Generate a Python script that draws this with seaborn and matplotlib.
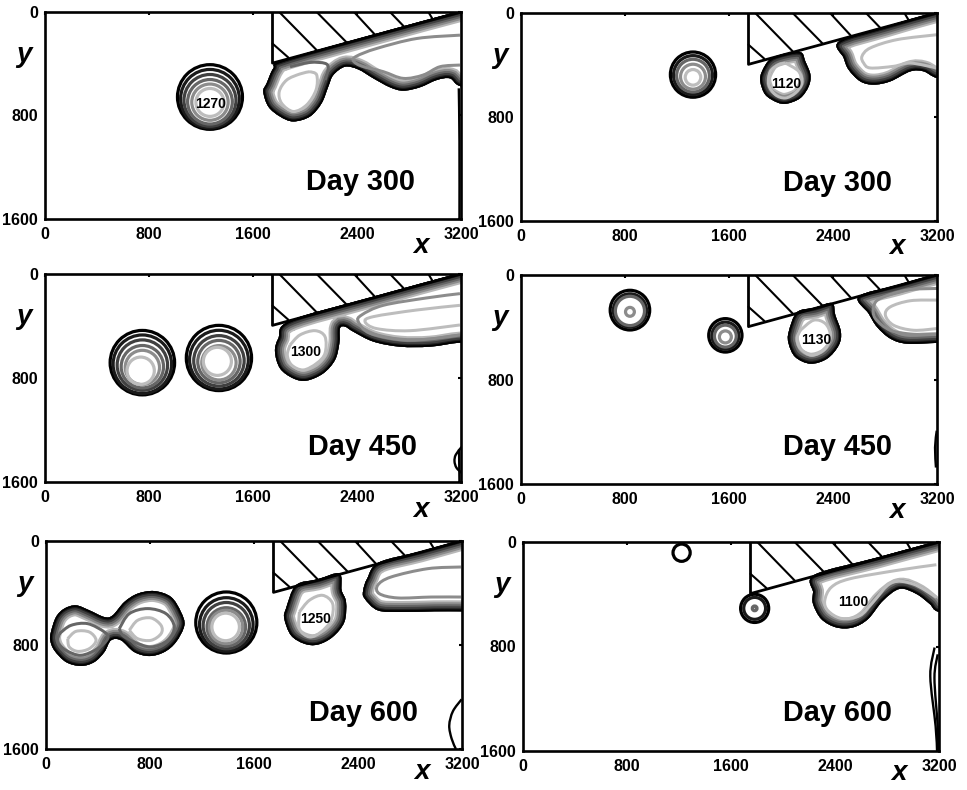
import matplotlib
matplotlib.use("Agg")
import matplotlib.pyplot as plt
import numpy as np
import seaborn as sns
from matplotlib.patches import Circle, PathPatch
from matplotlib.path import Path

# Values, all in model units (x, y), y pointing down
X_TICKS = [0, 800, 1600, 2400, 3200]
Y_TICKS = [0, 800, 1600]
DAYS = ["Day 300", "Day 300", "Day 450", "Day 450", "Day 600", "Day 600"]
DAY_POS = [(2423, 1315), (2431, 1308), (2444, 1328), (2431, 1320), (2444, 1323), (2418, 1308)]
CORE_LABELS = ["1270", "1120", "1300", "1130", "1250", "1100"]
CORE_POS = [(1277, 710), (2041, 544), (2005, 603), (2272, 495), (2077, 597), (2538, 456)]
X_LABEL_Y = [1808, 1800, 1815, 1808, 1777, 1770]

# panel boxes in pixels: left, right, top, bottom
BOXES = [(45, 461, 12, 219), (521, 937, 13, 221), (45, 461, 274, 482),
         (521, 937, 275, 484), (46, 462, 541, 749), (523, 939, 542, 751)]

# shelf outline and hatching, the same in all panels
COAST_X = [1750, 1750, 3200]
COAST_Y = [0, 395, 0]
HATCH_X0 = [1750, 1802, 2090, 2377, 2654, 2949]
HATCH_Y0 = [244, 0, 0, 0, 0, 0]
HATCH_X1 = [1872, 2090, 2320, 2538, 2764, 2982]
HATCH_Y1 = [352, 295, 235, 175, 115, 55]

# eddies: rings of (x, y, radius, level), outermost first
eddy_a1 = [(1269, 657, 250, 0), (1269, 670, 226, 1), (1269, 683, 200, 2),
           (1269, 694, 172, 3), (1269, 697, 140, 4), (1269, 699, 108, 5)]
eddy_b1 = [(1323, 474, 174, 0), (1323, 478, 150, 1), (1323, 482, 126, 3), (1323, 490, 96, 4),
           (1323, 495, 60, 5)]
eddy_c1 = [(749, 682, 248, 0), (749, 694, 225, 1), (749, 701, 194, 2),
           (749, 713, 163, 3), (749, 719, 132, 4), (736, 744, 105, 5)]
eddy_c2 = [(1338, 646, 251, 0), (1338, 659, 226, 1), (1338, 668, 194, 2),
           (1338, 674, 163, 3), (1338, 683, 132, 4), (1326, 672, 108, 5)]
eddy_d1 = [(838, 269, 152, 0), (838, 272, 128, 1), (838, 275, 112, 3), (838, 282, 34, 4)]
eddy_d2 = [(1572, 462, 128, 0), (1572, 465, 104, 1), (1572, 468, 84, 3), (1572, 474, 46, 4)]
eddy_e1 = [(1387, 627, 235, 0), (1387, 642, 206, 1), (1387, 651, 178, 2),
           (1387, 661, 148, 3), (1385, 661, 128, 4), (1382, 661, 106, 5)]
eddy_f1 = [(1220, 82, 66, 0)]
eddy_f2 = [(1782, 508, 108, 0), (1782, 508, 84, 1), (1782, 508, 18, 3), (1782, 508, 8, 3)]

# closed regions of the warm layer: contour bands run inward from these outlines
lobe_a = [(1833, 372), (1756, 436), (1705, 551), (1679, 615), (1718, 731), (1808, 808), (1910, 846),
          (2038, 808), (2128, 705), (2179, 577), (2218, 487), (2308, 423), (2410, 444), (2526, 513),
          (2654, 582), (2756, 608), (2884, 582), (3013, 526), (3115, 513), (3192, 572), (3400, 590),
          (3400, -60), (3200, -10), (2500, 181)]
lobe_b = [(1918, 354), (1854, 449), (1841, 526), (1879, 628), (1969, 687), (2046, 697), (2149, 654),
          (2213, 564), (2226, 474), (2187, 372), (2154, 303), (2040, 310)]
main_b = [(2444, 220), (2482, 346), (2520, 436), (2610, 526), (2713, 551), (2841, 526), (2995, 449),
          (3097, 449), (3200, 500), (3400, 520), (3400, -60), (3200, -10), (2800, 105)]
lobe_c = [(1885, 359), (1795, 495), (1769, 597), (1808, 726), (1910, 803), (2013, 820), (2141, 764),
          (2231, 661), (2264, 533), (2269, 418), (2308, 405), (2372, 444), (2526, 520), (2731, 559),
          (2961, 559), (3192, 528), (3400, 528), (3400, -60), (3200, -10), (2500, 181)]
lobe_d = [(2123, 285), (2059, 436), (2059, 526), (2110, 628), (2226, 679), (2354, 641), (2444, 538),
          (2461, 436), (2418, 308), (2392, 215), (2260, 250)]
main_d = [(2597, 165), (2674, 295), (2738, 397), (2841, 487), (2969, 526), (3200, 520), (3400, 520),
          (3400, -60), (3200, -10), (2900, 75)]
dumbbell_e = [(38, 700), (77, 585), (141, 520), (231, 495), (333, 533), (449, 585), (513, 572), (603, 469),
              (705, 405), (833, 385), (962, 431), (1038, 546), (1064, 649), (1000, 777), (910, 854),
              (795, 885), (679, 854), (577, 764), (500, 764), (449, 854), (372, 931), (269, 961),
              (154, 931), (64, 841), (33, 764)]
lobe_e = [(1923, 340), (1846, 520), (1833, 597), (1885, 726), (1987, 790), (2090, 797), (2205, 738),
          (2295, 623), (2308, 469), (2274, 379), (2256, 250), (2090, 295)]
main_e = [(2560, 165), (2470, 290), (2440, 380), (2449, 440), (2551, 533), (2731, 546), (2987, 541),
          (3192, 541), (3400, 541), (3400, -60), (3200, -10), (2880, 80)]
main_f = [(2244, 250), (2231, 385), (2231, 474), (2295, 590), (2410, 654), (2538, 654), (2654, 590),
          (2769, 449), (2897, 359), (3025, 397), (3128, 474), (3192, 533), (3400, 560), (3400, -60),
          (3200, -10), (2720, 120)]

# inner contours, drawn as lines: (points, level)
in_a1 = [(2038, 461), (2090, 487), (2085, 602), (2013, 718), (1910, 769), (1820, 705), (1802, 615),
         (1859, 526), (1961, 479), (2038, 461)]
in_a2 = [(1885, 423), (2038, 390), (2154, 397), (2179, 436), (2154, 526)]
in_a3 = [(3192, 179), (2859, 205), (2551, 282), (2397, 341), (2372, 377), (2436, 418), (2602, 461),
         (2756, 513), (2910, 487), (3038, 423), (3192, 410)]
in_b1 = [(2035, 385), (2136, 449), (2162, 538), (2110, 615), (2033, 654), (1956, 628), (1905, 551),
         (1918, 449), (1982, 397), (2035, 385)]
in_b2 = [(3200, 167), (2892, 205), (2687, 269), (2623, 333), (2636, 385), (2687, 423), (2867, 410),
         (2995, 385), (3200, 423)]
in_c1 = [(1885, 546), (1961, 469), (2077, 436), (2154, 482), (2154, 610), (2090, 687), (1987, 738),
         (1897, 700), (1864, 623), (1885, 546)]
in_c2 = [(3192, 151), (2936, 184), (2602, 241), (2436, 315), (2410, 367), (2500, 456), (2756, 508),
         (2987, 497), (3192, 469)]
in_c3 = [(3192, 241), (2859, 277), (2526, 328), (2462, 367), (2551, 420), (2808, 436), (3192, 392)]
in_d1 = [(2149, 423), (2251, 346), (2341, 372), (2379, 461), (2341, 564), (2238, 615), (2149, 564),
         (2123, 487), (2149, 423)]
in_d2 = [(3200, 103), (2969, 115), (2764, 179), (2713, 244), (2726, 333), (2841, 423), (3020, 454),
         (3200, 454)]
in_d3 = [(3200, 192), (2995, 197), (2841, 244), (2803, 308), (2867, 385), (3020, 423), (3200, 410)]
in_e1 = [(103, 713), (192, 649), (321, 636), (449, 700), (474, 751), (397, 828), (269, 879), (154, 841),
         (90, 777), (103, 713)]
in_e2 = [(167, 751), (231, 695), (333, 700), (385, 764), (333, 828), (244, 849), (179, 815), (167, 751)]
in_e3 = [(564, 674), (641, 559), (782, 520), (923, 559), (987, 661), (936, 764), (808, 815), (679, 777),
         (590, 726), (564, 674)]
in_e4 = [(641, 687), (705, 610), (808, 592), (885, 649), (885, 713), (808, 764), (705, 751), (641, 687)]
in_e5 = [(1949, 546), (2026, 456), (2128, 418), (2205, 482), (2192, 610), (2115, 700), (2026, 738),
         (1949, 674), (1949, 546)]
in_e6 = [(3192, 200), (2936, 213), (2654, 277), (2551, 341), (2564, 405), (2705, 438), (2962, 431),
         (3192, 431)]
in_f1 = [(3180, 174), (2872, 218), (2513, 282), (2372, 346), (2321, 449), (2346, 526), (2449, 585),
         (2590, 564), (2692, 461), (2833, 313), (3000, 321), (3180, 423)]

# contours hugging the eastern wall
wall_a = [(3183, 590), (3188, 1000), (3188, 1600)]
wall_c1 = [(3205, 1330), (3160, 1390), (3150, 1440), (3165, 1490), (3205, 1530)]
wall_c2 = [(3185, 1350), (3188, 1600)]
wall_d = [(3198, 1192), (3185, 1320), (3192, 1474)]
wall_e = [(3197, 1218), (3130, 1310), (3102, 1418), (3120, 1520), (3153, 1600)]
wall_f1 = [(3166, 808), (3133, 1026), (3174, 1410), (3185, 1600)]
wall_f2 = [(3190, 860), (3165, 1040), (3190, 1410), (3195, 1600)]

EDDIES = [[eddy_a1], [eddy_b1], [eddy_c1, eddy_c2], [eddy_d1, eddy_d2], [eddy_e1], [eddy_f1, eddy_f2]]
REGIONS = [[lobe_a], [lobe_b, main_b], [lobe_c], [lobe_d, main_d], [dumbbell_e, lobe_e, main_e], [main_f]]
INNER = [[(in_a1, 5), (in_a2, 3), (in_a3, 4)],
         [(in_b1, 5), (in_b2, 5)],
         [(in_c1, 5), (in_c2, 4), (in_c3, 5)],
         [(in_d1, 5), (in_d2, 4), (in_d3, 5)],
         [(in_e1, 3), (in_e2, 5), (in_e3, 3), (in_e4, 5), (in_e5, 5), (in_e6, 4)],
         [(in_f1, 5)]]
WALLS = [[wall_a], [], [wall_c1, wall_c2], [wall_d], [wall_e], [wall_f1, wall_f2]]

SHADES = ["black", "0.1", "0.25", "0.4", "0.55", "0.74"]
# half widths in pixels of the stacked bands inside an outline, widest first
BANDS = [(11, "0.72"), (9, "0.55"), (7, "0.4"), (5, "0.25"), (3, "0.12"), (1.8, "black")]
PX = 0.72

sns.set_style("white")
plt.rcParams["font.family"] = ["Liberation Sans", "DejaVu Sans"]
plt.rcParams["font.weight"] = "bold"
plt.rcParams["text.color"] = "black"
plt.rcParams["xtick.color"] = "black"
plt.rcParams["ytick.color"] = "black"


def smooth_path(points, closed):
    # cubic segments that pass through the read points
    p = np.asarray(points, dtype=float)
    n = len(p)
    count = n if closed else n - 1
    verts = [p[0]]
    codes = [Path.MOVETO]
    for i in range(count):
        if closed:
            a, b, c, d = p[i - 1], p[i], p[(i + 1) % n], p[(i + 2) % n]
        else:
            a, b, c, d = p[max(i - 1, 0)], p[i], p[i + 1], p[min(i + 2, n - 1)]
        verts += [b + (c - a) / 6, c - (d - b) / 6, c]
        codes += [Path.CURVE4, Path.CURVE4, Path.CURVE4]
    return Path(verts, codes)


def draw_region(ax, points):
    path = smooth_path(points, True)
    clip = PathPatch(path, transform=ax.transData)
    for half, shade in BANDS:
        band = PathPatch(path, fill=False, ec=shade, lw=2 * half * PX)
        ax.add_patch(band)
        band.set_clip_path(clip)


def draw_rings(ax, rings):
    for x, y, r, level in rings:
        ax.add_patch(Circle((x, y), r, fill=False, ec=SHADES[level], lw=3.2 * PX))


def draw_line(ax, points, lw=2.0):
    xs, ys = zip(*points)
    sns.lineplot(x=list(xs), y=list(ys), sort=False, estimator=None, color="black", lw=lw, ax=ax)


fig = plt.figure(figsize=(9.67, 7.9), dpi=100)

for i, (left, right, top, bottom) in enumerate(BOXES):
    ax = fig.add_axes([left / 967, 1 - bottom / 790, (right - left) / 967, (bottom - top) / 790])

    for points in REGIONS[i]:
        draw_region(ax, points)
    for points, level in INNER[i]:
        ax.add_patch(PathPatch(smooth_path(points, False), fill=False, ec=SHADES[level], lw=3 * PX))
    for rings in EDDIES[i]:
        draw_rings(ax, rings)
    for points in WALLS[i]:
        ax.add_patch(PathPatch(smooth_path(points, False), fill=False, ec="black", lw=1.7))

    draw_line(ax, list(zip(COAST_X, COAST_Y)), lw=2.0)
    for x0, y0, x1, y1 in zip(HATCH_X0, HATCH_Y0, HATCH_X1, HATCH_Y1):
        draw_line(ax, [(x0, y0), (x1, y1)], lw=1.5)

    ax.set_xlim(0, 3200)
    ax.set_ylim(1600, 0)
    ax.set_xticks(X_TICKS)
    ax.set_yticks(Y_TICKS)
    ax.tick_params(direction="in", length=2.5, width=1.5, top=True, right=True, labelsize=11.5)
    ax.tick_params(axis="x", pad=6)
    ax.tick_params(axis="y", pad=5)
    for spine in ax.spines.values():
        spine.set_linewidth(1.9)
        spine.set_color("black")
        spine.set_visible(True)

    ax.text(*DAY_POS[i], DAYS[i], fontsize=20.8, ha="center", va="center")
    ax.text(*CORE_POS[i], CORE_LABELS[i], fontsize=10, ha="center", va="center")
    ax.text(2895, X_LABEL_Y[i], "x", fontsize=20, style="italic", ha="center", va="center")
    ax.text(-160, 330, "y", fontsize=20, style="italic", ha="center", va="center")

fig.savefig("out.png", dpi=100)
